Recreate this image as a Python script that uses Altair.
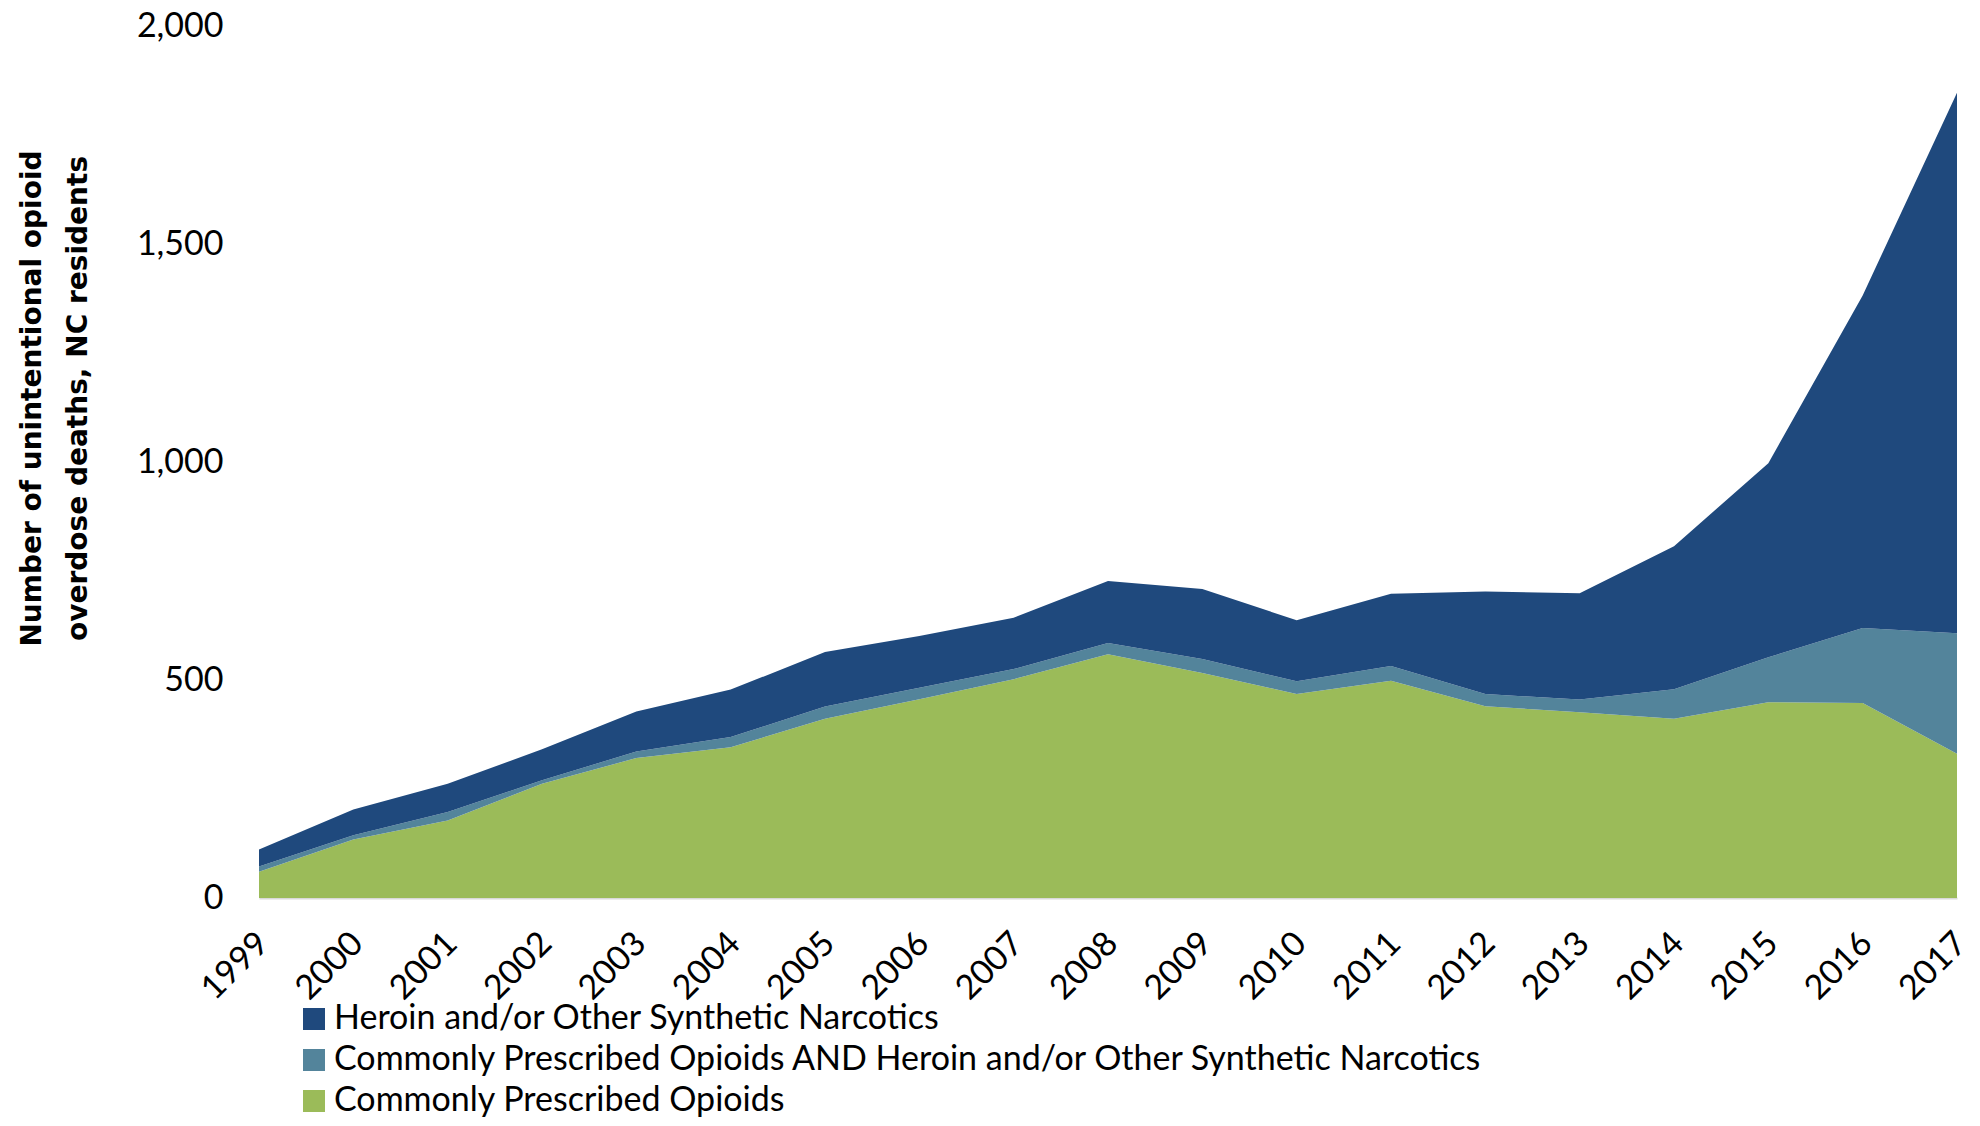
import altair as alt
import pandas as pd

years = list(range(1999, 2018))
commonly_prescribed = [60, 134, 178, 262, 321, 346, 411, 456, 502, 559, 516, 468, 498, 440, 426, 411, 449, 447, 331]
both_types = [12, 10, 19, 8, 15, 23, 28, 26, 23, 26, 32, 29, 34, 28, 29, 68, 103, 172, 276]
heroin_synthetic = [39, 59, 65, 71, 92, 109, 125, 119, 118, 142, 161, 140, 166, 235, 244, 328, 445, 763, 1240]

series_names = [
    "Heroin and/or Other Synthetic Narcotics",
    "Commonly Prescribed Opioids AND Heroin and/or Other Synthetic Narcotics",
    "Commonly Prescribed Opioids",
]
series_colors = ["#1f497d", "#53849b", "#9bbb59"]
y_ticks = [0, 500, 1000, 1500, 2000]

rows = []
for i, yr in enumerate(years):
    rows.append({"year": yr, "series": series_names[2], "deaths": commonly_prescribed[i], "ord": 0})
    rows.append({"year": yr, "series": series_names[1], "deaths": both_types[i], "ord": 1})
    rows.append({"year": yr, "series": series_names[0], "deaths": heroin_synthetic[i], "ord": 2})
df = pd.DataFrame(rows)

chart = alt.Chart(df).mark_area(interpolate="linear", opacity=1).encode(
    x=alt.X(
        "year:Q",
        scale=alt.Scale(domain=[1999, 2017], nice=False, zero=False),
        axis=alt.Axis(
            values=years, format="d", labelAngle=315, labelAlign="right", labelBaseline="top",
            labelPadding=28, labelOffset=-8, ticks=False, domainColor="#d9d9d9", domainWidth=2,
            grid=False, title=None, labelFont="Lato", labelFontSize=34, labelColor="black",
            labelOverlap=False, labelFlush=False,
        ),
    ),
    y=alt.Y(
        "deaths:Q",
        stack="zero",
        scale=alt.Scale(domain=[0, 2000], nice=False),
        axis=alt.Axis(
            values=y_ticks, format=",d", ticks=False, domain=False, grid=False,
            labelPadding=36, labelFont="Lato", labelFontSize=34, labelColor="black",
            title=["Number of unintentional opioid", "overdose deaths, NC residents"],
            titleFont="DejaVu Sans", titleFontSize=28, titleFontWeight="bold",
            titleAngle=270, titleX=-213, titleY=372, titleAlign="center",
            titleBaseline="bottom", titleLineHeight=46, titleColor="black",
        ),
    ),
    color=alt.Color(
        "series:N",
        scale=alt.Scale(domain=series_names, range=series_colors),
        legend=alt.Legend(
            title=None, orient="none", legendX=38, legendY=976, direction="vertical",
            symbolType="square", symbolSize=484, symbolStrokeWidth=0, symbolOpacity=1,
            labelFont="Lato", labelFontSize=34, labelColor="black", labelOffset=3,
            rowPadding=7, labelLimit=2000,
        ),
    ),
    order=alt.Order("ord:Q", sort="ascending"),
).properties(
    width=1698,
    height=872,
    autosize=alt.AutoSizeParams(type="none"),
    padding={"left": 251, "top": 18, "right": 15, "bottom": 220},
    background="white",
).configure_view(stroke=None)

chart.save("out.html", embed_options={"renderer": "svg", "actions": False})
